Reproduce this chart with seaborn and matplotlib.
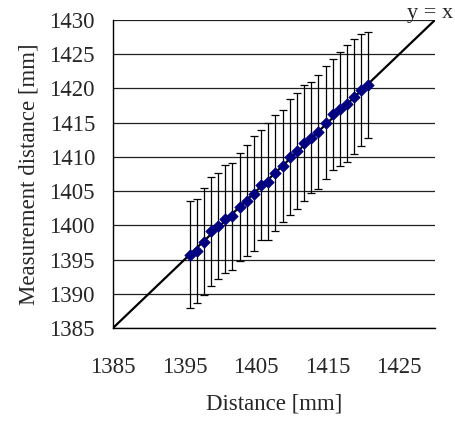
import matplotlib
matplotlib.use("Agg")
import matplotlib.pyplot as plt
import seaborn as sns
import numpy as np
import pandas as pd

# ---- data ----
distance = [1395.7, 1396.7, 1397.7, 1398.7, 1399.7, 1400.7, 1401.7, 1402.7, 1403.7,
            1404.7, 1405.7, 1406.7, 1407.7, 1408.7, 1409.7, 1410.7, 1411.7, 1412.7,
            1413.7, 1414.7, 1415.7, 1416.7, 1417.7, 1418.7, 1419.7, 1420.7]
measured = [1395.7, 1396.2, 1397.6, 1399.1, 1399.9, 1400.9, 1401.3, 1402.7, 1403.6,
            1404.6, 1405.9, 1406.4, 1407.6, 1408.7, 1410.0, 1410.9, 1412.0, 1412.8,
            1413.6, 1415.0, 1416.2, 1417.0, 1417.8, 1418.8, 1419.8, 1420.5]
error = [7.8, 7.6, 7.8, 7.9, 7.8, 7.9, 7.8, 7.9, 8.1, 8.4, 8.1, 8.6, 8.5,
         8.2, 8.5, 8.5, 8.5, 8.1, 8.3, 8.3, 8.1, 8.3, 8.6, 8.4, 8.2, 7.8]
diag = [1385, 1430]
x_ticks = [1385, 1395, 1405, 1415, 1425]
y_ticks = [1385, 1390, 1395, 1400, 1405, 1410, 1415, 1420, 1425, 1430]

df = pd.DataFrame({"Distance": distance, "Measured": measured, "Error": error})
diag_df = pd.DataFrame({"x": diag, "y": diag})

sns.set_style("white")
plt.rcParams["font.family"] = ["Liberation Serif", "DejaVu Serif"]
FS = 16.5
plt.rcParams["font.size"] = FS

fig = plt.figure(figsize=(4.56, 4.21), dpi=100)
ax = fig.add_axes([0.2478, 0.2209, 0.7061, 0.7316])

for yv in y_ticks:
    ax.axhline(yv, color="#202020", lw=0.9, zorder=0)

sns.lineplot(data=diag_df, x="x", y="y", color="black", lw=1.6, ax=ax, zorder=2)
ax.errorbar(df["Distance"], df["Measured"], yerr=df["Error"], fmt="none",
            ecolor="black", elinewidth=0.9, capsize=3, capthick=0.9, zorder=3)
sns.scatterplot(data=df, x="Distance", y="Measured", marker="D", s=34,
                color="#000080", edgecolor="#000080", linewidth=0.5, ax=ax, zorder=4)

ax.text(1429.3, 1430.3, "y = x", ha="center", va="baseline", fontsize=16)

ax.set_xlim(1385, 1430)
ax.set_ylim(1385, 1430)
ax.set_xticks(x_ticks)
ax.set_yticks(y_ticks)
ax.tick_params(axis="x", direction="in", length=8, width=0.9, color="black", pad=21,
               labelsize=FS)
ax.tick_params(axis="y", direction="in", length=0, pad=13, labelsize=FS)
ax.set_xlabel("Distance [mm]", fontsize=FS, labelpad=11)
ax.set_ylabel("Measurement distance [mm]", fontsize=FS, labelpad=7)

for s in ["top", "right"]:
    ax.spines[s].set_visible(False)
for s in ["left", "bottom"]:
    ax.spines[s].set_color("black")
    ax.spines[s].set_linewidth(1.0)

fig.savefig("out.png", dpi=100)
